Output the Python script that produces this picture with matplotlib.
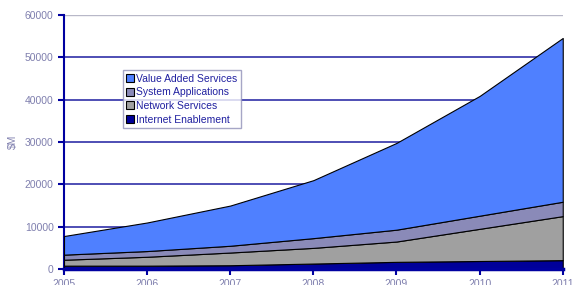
import matplotlib
matplotlib.use("Agg")
import matplotlib.pyplot as plt
import numpy as np

plt.rcParams['font.family'] = ['Liberation Sans', 'DejaVu Sans']

years = [2005, 2006, 2007, 2008, 2009, 2010, 2011]
internet = [800, 800, 900, 1300, 1700, 1900, 2100]
network = [1400, 2100, 3000, 3700, 4800, 7600, 10400]
system_apps = [1200, 1350, 1600, 2300, 2800, 3100, 3400]
value_added = [4400, 6750, 9500, 13700, 20500, 28300, 38700]

labels = ["Internet Enablement", "Network Services", "System Applications", "Value Added Services"]
colors = ["#000099", "#a0a0a0", "#8a8ab8", "#4f80ff"]

fig = plt.figure(figsize=(5.84, 2.85), dpi=100)
ax = fig.add_axes([0.1096, 0.056, 0.854, 0.891])

polys = ax.stackplot(years, internet, network, system_apps, value_added,
                     colors=colors, labels=labels, edgecolor="black", linewidth=0.8, zorder=3)

ax.set_xlim(2005, 2011)
ax.set_ylim(0, 60000)
ax.set_yticks(np.arange(0, 60001, 10000))
ax.set_xticks(years)

for y in range(10000, 60000, 10000):
    ax.axhline(y, color="#3030a8", linewidth=1.2, zorder=1)
ax.axhline(60000, color="#b8b8c8", linewidth=1.0, zorder=1)

for s in ["top", "right"]:
    ax.spines[s].set_visible(False)
ax.spines["left"].set_color("#0000a0")
ax.spines["left"].set_linewidth(1.5)
ax.spines["bottom"].set_color("#0000a0")
ax.spines["bottom"].set_linewidth(2.5)
ax.spines["bottom"].set_zorder(4)

ax.tick_params(axis="both", colors="#0000a0", labelcolor="#7f7fae", labelsize=7.5,
               direction="out", length=4, width=1.5)
ax.tick_params(axis="x", pad=3)
ax.set_ylabel("$M", color="#7f7fae", fontsize=7.5, labelpad=5)

handles, lbls = ax.get_legend_handles_labels()
leg = ax.legend(handles[::-1], lbls[::-1], loc="upper left", bbox_to_anchor=(0.118, 0.782),
                fontsize=7.5, frameon=True, fancybox=False, borderpad=0.3,
                labelspacing=0.35, handlelength=0.8, handleheight=0.8, handletextpad=0.2,
                borderaxespad=0)
leg.get_frame().set_edgecolor("#9090b8")
leg.get_frame().set_linewidth(1.0)
for t in leg.get_texts():
    t.set_color("#2020a0")
leg.set_zorder(5)

fig.savefig("out.png", dpi=100)
